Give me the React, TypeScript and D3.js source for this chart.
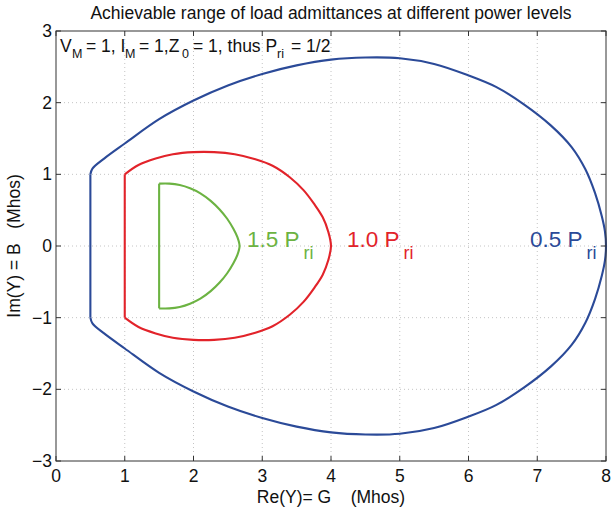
import React from "react";
import * as d3 from "d3";

const W = 612;
const H = 510;

const xTicks = [0, 1, 2, 3, 4, 5, 6, 7, 8];
const yTicks = [-3, -2, -1, 0, 1, 2, 3];

// 0.5 P_ri boundary (blue)
const blueVertG = [0.5, 0.5];
const blueVertB = [-1.0, 1.0];
const blueArcG = [0.5, 0.53, 0.7, 1.0, 1.5, 2.0, 2.5, 3.0, 3.5, 4.0, 4.5, 5.0, 5.5, 6.0, 6.4, 6.8, 7.2, 7.5, 7.7, 7.84, 7.94, 7.985, 8.0,
  7.985, 7.94, 7.84, 7.7, 7.5, 7.2, 6.8, 6.4, 6.0, 5.5, 5.0, 4.5, 4.0, 3.5, 3.0, 2.5, 2.0, 1.5, 1.0, 0.7, 0.53, 0.5];
const blueArcB = [1.0, 1.08, 1.22, 1.43, 1.77, 2.03, 2.24, 2.40, 2.52, 2.60, 2.63, 2.62, 2.54, 2.38, 2.22, 1.98, 1.68, 1.38, 1.07, 0.74, 0.41, 0.2, 0.0,
  -0.2, -0.41, -0.74, -1.07, -1.38, -1.68, -1.98, -2.22, -2.38, -2.54, -2.62, -2.63, -2.60, -2.52, -2.40, -2.24, -2.03, -1.77, -1.43, -1.22, -1.08, -1.0];

// 1.0 P_ri boundary (red)
const redVertG = [1.0, 1.0];
const redVertB = [-1.0, 1.0];
const redArcG = [1.0, 1.2, 1.45, 1.7, 2.0, 2.3, 2.6, 2.9, 3.15, 3.4, 3.6, 3.76, 3.88, 3.96, 4.0,
  3.96, 3.88, 3.76, 3.6, 3.4, 3.15, 2.9, 2.6, 2.3, 2.0, 1.7, 1.45, 1.2, 1.0];
const redArcB = [1.0, 1.13, 1.22, 1.28, 1.31, 1.31, 1.28, 1.21, 1.12, 0.96, 0.78, 0.58, 0.4, 0.2, 0.0,
  -0.2, -0.4, -0.58, -0.78, -0.96, -1.12, -1.21, -1.28, -1.31, -1.31, -1.28, -1.22, -1.13, -1.0];

// 1.5 P_ri boundary (green)
const greenVertG = [1.5, 1.5];
const greenVertB = [-0.87, 0.87];
const greenArcG = [1.5, 1.65, 1.8, 1.95, 2.1, 2.25, 2.38, 2.49, 2.58, 2.64, 2.67,
  2.64, 2.58, 2.49, 2.38, 2.25, 2.1, 1.95, 1.8, 1.65, 1.5];
const greenArcB = [0.87, 0.87, 0.85, 0.805, 0.735, 0.63, 0.51, 0.38, 0.24, 0.12, 0.0,
  -0.12, -0.24, -0.38, -0.51, -0.63, -0.735, -0.805, -0.85, -0.87, -0.87];

const FONT = "'Liberation Sans', Arial, Helvetica, sans-serif";
const BLUE = "#2b4a98";
const RED = "#e2232a";
const GREEN = "#6cb342";

export default function App() {
  const x = d3.scaleLinear().domain([0, 8]).range([56, 606]);
  const y = d3.scaleLinear().domain([-3, 3]).range([461, 31]);

  const zip = (g: number[], b: number[]) => g.map((v, i) => [v, b[i]] as [number, number]);
  const lin = d3.line<[number, number]>().x((d) => x(d[0])).y((d) => y(d[1]));
  const arc = d3
    .line<[number, number]>()
    .x((d) => x(d[0]))
    .y((d) => y(d[1]))
    .curve(d3.curveCatmullRom.alpha(0.5));

  const series = [
    { color: BLUE, vg: blueVertG, vb: blueVertB, ag: blueArcG, ab: blueArcB },
    { color: RED, vg: redVertG, vb: redVertB, ag: redArcG, ab: redArcB },
    { color: GREEN, vg: greenVertG, vb: greenVertB, ag: greenArcG, ab: greenArcB },
  ];

  const [x0, x1] = x.range();
  const [yb, yt] = y.range();
  const tickLen = 5;
  const fs = 17.5;
  const sub = 12.5;
  const annY = 52;
  const subY = 58;

  return (
    <svg width={W} height={H} style={{ position: "absolute", left: 0, top: 0, background: "#fff" }} fontFamily={FONT}>
      {/* grid */}
      {xTicks.slice(1, -1).map((t) => (
        <line key={"gx" + t} x1={x(t)} x2={x(t)} y1={yt} y2={yb} stroke="#b5b5b5" strokeWidth={0.8} strokeDasharray="1,3" />
      ))}
      {yTicks.slice(1, -1).map((t) => (
        <line key={"gy" + t} x1={x0} x2={x1} y1={y(t)} y2={y(t)} stroke="#b5b5b5" strokeWidth={0.8} strokeDasharray="1,3" />
      ))}
      {/* curves */}
      {series.map((s, i) => (
        <g key={i} fill="none" stroke={s.color} strokeWidth={2.1} strokeLinejoin="round">
          <path d={lin(zip(s.vg, s.vb)) || ""} />
          <path d={arc(zip(s.ag, s.ab)) || ""} />
        </g>
      ))}
      {/* axes box */}
      <rect x={x0} y={yt} width={x1 - x0} height={yb - yt} fill="none" stroke="#333" strokeWidth={1} />
      {xTicks.map((t) => (
        <g key={"tx" + t}>
          <line x1={x(t)} x2={x(t)} y1={yb} y2={yb - tickLen} stroke="#333" />
          <line x1={x(t)} x2={x(t)} y1={yt} y2={yt + tickLen} stroke="#333" />
          <text x={x(t)} y={482} fontSize={fs} textAnchor="middle" fill="#111">{t}</text>
        </g>
      ))}
      {yTicks.map((t) => (
        <g key={"ty" + t}>
          <line x1={x0} x2={x0 + tickLen} y1={y(t)} y2={y(t)} stroke="#333" />
          <line x1={x1} x2={x1 - tickLen} y1={y(t)} y2={y(t)} stroke="#333" />
          <text x={52} y={y(t) + 6} fontSize={fs} textAnchor="end" fill="#111">{t < 0 ? "\u2212" + Math.abs(t) : t}</text>
        </g>
      ))}
      {/* title */}
      <text x={331} y={19} fontSize={fs} textAnchor="middle" fill="#111">
        Achievable range of load admittances at different power levels
      </text>
      {/* axis labels */}
      <text x={331} y={503} fontSize={fs} textAnchor="middle" fill="#111" xmlSpace="preserve">
        {"Re(Y)= G    (Mhos)"}
      </text>
      <text transform="translate(20,246) rotate(-90)" fontSize={fs} textAnchor="middle" fill="#111" xmlSpace="preserve">
        {"Im(Y) = B   (Mhos)"}
      </text>
      {/* annotation */}
      <text fontSize={fs} fill="#111" xmlSpace="preserve">
        <tspan x={60} y={annY}>V</tspan>
        <tspan x={72} y={subY} fontSize={sub}>M</tspan>
        <tspan x={86} y={annY}>{"= 1, I"}</tspan>
        <tspan x={125} y={subY} fontSize={sub}>M</tspan>
        <tspan x={139} y={annY}>{"= 1,Z"}</tspan>
        <tspan x={182} y={subY} fontSize={sub}>0</tspan>
        <tspan x={193} y={annY}>{"= 1, thus P"}</tspan>
        <tspan x={277} y={subY} fontSize={sub}>ri</tspan>
        <tspan x={291} y={annY}>{"= 1/2"}</tspan>
      </text>
      {/* curve labels */}
      <text x={247} y={247} fontSize={22.5} fill={GREEN} xmlSpace="preserve">
        <tspan>{"1.5 P"}</tspan>
        <tspan dx={4} dy={12} fontSize={18}>ri</tspan>
      </text>
      <text x={347} y={247} fontSize={22.5} fill={RED} xmlSpace="preserve">
        <tspan>{"1.0 P"}</tspan>
        <tspan dx={4} dy={12} fontSize={18}>ri</tspan>
      </text>
      <text x={530} y={247} fontSize={22.5} fill={BLUE} xmlSpace="preserve">
        <tspan>{"0.5 P"}</tspan>
        <tspan dx={4} dy={12} fontSize={18}>ri</tspan>
      </text>
    </svg>
  );
}
